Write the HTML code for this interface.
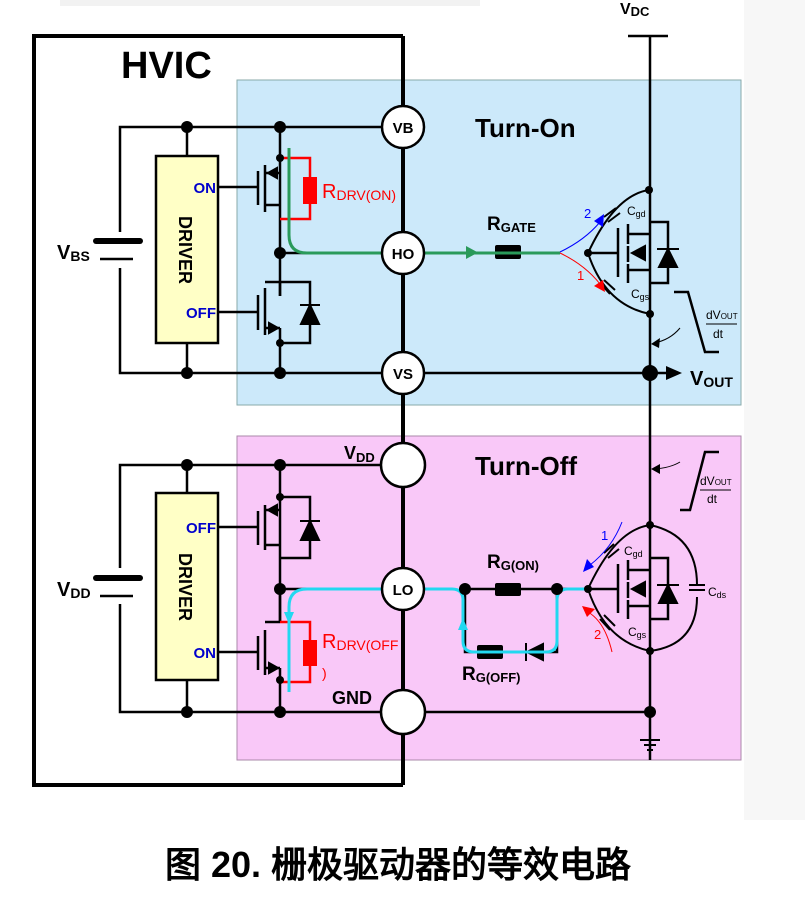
<!DOCTYPE html>
<html><head><meta charset="utf-8"><style>
body{margin:0;background:#fff}
svg{display:block}
text{font-family:"Liberation Sans",Arial,sans-serif}
.b{font-weight:bold}
</style></head><body>
<svg width="805" height="902" viewBox="0 0 805 902" xmlns="http://www.w3.org/2000/svg">
<rect x="0" y="0" width="805" height="902" fill="#fff"/>
<rect x="60" y="0" width="250" height="6" fill="#f2f2f2"/>
<rect x="310" y="0" width="170" height="6" fill="#f2f2f2"/>
<rect x="744" y="0" width="61" height="820" fill="#f7f7f7"/>
<!-- backgrounds -->
<rect x="237" y="80" width="504" height="325" fill="#cce9fa" stroke="#8aa" stroke-width="1"/>
<rect x="237" y="436" width="504" height="324" fill="#f9c8f8" stroke="#a8a" stroke-width="1"/>
<!-- HVIC box -->
<path d="M403,36 H34 V785 H403" fill="none" stroke="#000" stroke-width="4"/>
<line x1="403" y1="36" x2="403" y2="785" stroke="#000" stroke-width="4"/>
<text x="121" y="78" class="b" font-size="38">HVIC</text>

<g stroke="#000" stroke-width="2.5" fill="none">
<path d="M403,127 H120 V232 M120,268 V373 H668"/>
<path d="M187,127 V156 M187,343 V373"/>
<path d="M403,465 H120 V568 M120,604 V712 H650"/>
<path d="M187,465 V493 M187,680 V712"/>
<path d="M218,187 H258 M258,171 V205 M265,165 V212 M265,173 H280 M265,205 H280 M280,127 V296"/>
<path d="M218,312 H258 M258,295 V330 M265,288 V335 M265,282 H310 V343 H280 M265,328 H280 M280,296 V282 M280,328 V373"/>
<path d="M280,253 H403"/>
<path d="M218,527 H258 M258,511 V545 M265,505 V550 M265,510 H280 M265,545 H280 M280,465 V558 H310 V497 H280 M280,545 V622"/>
<path d="M218,652 H258 M258,636 V670 M265,630 V675 M265,622 H280 M265,668 H280 M280,622 V589 M280,668 V712"/>
<path d="M280,589 H403"/>
<path d="M628,36 H668 M650,36 V760"/>
<path d="M640,740 H660 M644,745 H656 M647,750 H653" stroke-width="2"/>
<path d="M588,253 H618 M618,228 V277 M628,224 V244 M628,246 V262 M628,264 V283 M628,234 H650 M628,270 H650 M650,222 H668 V283 H650"/>
<path d="M649,190 Q615,195 588,253 Q605,305 650,314" stroke-width="2"/>
<path d="M465,589 H618 M618,564 V613 M628,560 V580 M628,582 V598 M628,600 V619 M628,570 H650 M628,606 H650 M650,558 H668 V619 H650"/>
<path d="M650,525 Q615,530 588,589 Q605,641 650,651" stroke-width="2"/>
<path d="M650,525 Q697,535 697,585 M697,597 Q697,645 650,651" stroke-width="2"/>
<path d="M465,589 V652 H557 V589"/>
<path d="M674,292 H688 L705,352 H719"/>
<path d="M680,510 H690 L705,452 H719"/>
</g>
<g stroke="#000" stroke-width="2">
<path d="M604,217 L616,208 M608,222 L620,213"/>
<path d="M600,283 L610,294 M604,280 L615,290"/>
<path d="M604,553 L614,544 M608,558 L619,549"/>
<path d="M600,619 L610,630 M604,615 L615,626"/>
<path d="M689,585 H705 M689,590 H705"/>
</g>
<g fill="#000" stroke="#000" stroke-width="2">
<path d="M301,324 L319,324 L310,305z"/><line x1="300" y1="305" x2="320" y2="305"/>
<path d="M301,540 L319,540 L310,521z"/><line x1="300" y1="521" x2="320" y2="521"/>
<path d="M659,267 L677,267 L668,249z"/><line x1="657" y1="249" x2="679" y2="249"/>
<path d="M659,603 L677,603 L668,585z"/><line x1="657" y1="585" x2="679" y2="585"/>
<path d="M543,644 L543,660 L527,652z"/><line x1="526" y1="643" x2="526" y2="661"/>
<path d="M268,173 L277,168 L277,178z"/>
<path d="M278,328 L269,323 L269,333z"/>
<path d="M268,510 L277,505 L277,515z"/>
<path d="M278,668 L269,663 L269,673z"/>
<path d="M632,253 L645,246 L645,260z"/>
<path d="M632,589 L645,582 L645,596z"/>
</g>
<rect x="495" y="245" width="26" height="14" rx="2" fill="#000"/>
<rect x="495" y="583" width="26" height="13" rx="2" fill="#000"/>
<rect x="477" y="645" width="26" height="14" rx="2" fill="#000"/>
<g stroke="#f00" stroke-width="2.5" fill="none">
<path d="M280,158 H310 V219 H280"/>
<path d="M280,622 H310 V682 H280"/>
</g>
<rect x="303" y="177" width="14" height="27" fill="#f00"/>
<rect x="303" y="640" width="14" height="26" fill="#f00"/>
<path d="M289,148 V235 Q289,253 307,253 H560" fill="none" stroke="#2a9a5a" stroke-width="3"/>
<path d="M466,246 L478,252.5 L466,259z" fill="#2a9a5a"/>
<path d="M588,589 H568 Q557,589 557,600 V641 Q557,652 546,652 H474 Q463,652 463,641 V600 Q463,589 452,589 H307 Q289,589 289,607 V692" fill="none" stroke="#22d8f0" stroke-width="3"/>
<path d="M284,612 L289,624 L294,612z" fill="#22d8f0"/>
<path d="M458,630 L463,618 L468,630z" fill="#22d8f0"/>
<path d="M560,252 Q585,240 600,222" fill="none" stroke="#00f" stroke-width="1"/>
<path d="M604,214 L603,227 L594,221z" fill="#00f"/>
<path d="M560,253 Q585,265 600,284" fill="none" stroke="#f00" stroke-width="1"/>
<path d="M605,292 L594,286 L603,280z" fill="#f00"/>
<path d="M622,522 Q612,548 590,565" fill="none" stroke="#00f" stroke-width="1"/>
<path d="M583,572 L587,559 L594,567z" fill="#00f"/>
<path d="M612,652 Q605,622 588,612" fill="none" stroke="#f00" stroke-width="1"/>
<path d="M582,606 L595,609 L587,617z" fill="#f00"/>
<path d="M680,328 Q670,340 654,343" fill="none" stroke="#000" stroke-width="1"/>
<path d="M651,344 L660,338 L659,348z" fill="#000"/>
<path d="M680,462 Q670,468 654,469" fill="none" stroke="#000" stroke-width="1"/>
<path d="M651,469 L660,464 L660,474z" fill="#000"/>
<path d="M682,373 L666,366 L666,380z" fill="#000"/>
<rect x="156" y="156" width="62" height="187" fill="#ffffc6" stroke="#000" stroke-width="2.5"/>
<rect x="156" y="493" width="62" height="187" fill="#ffffc6" stroke="#000" stroke-width="2.5"/>
<text transform="translate(179,250) rotate(90)" text-anchor="middle" class="b" font-size="18">DRIVER</text>
<text transform="translate(179,587) rotate(90)" text-anchor="middle" class="b" font-size="18">DRIVER</text>
<g class="b" font-size="15" fill="#0000cc" text-anchor="end">
<text x="216" y="193">ON</text><text x="216" y="318">OFF</text>
<text x="216" y="533">OFF</text><text x="216" y="658">ON</text>
</g>
<g stroke="#000">
<line x1="96" y1="241" x2="140" y2="241" stroke-width="6" stroke-linecap="round"/>
<line x1="100" y1="259" x2="133" y2="259" stroke-width="2.5"/>
<line x1="96" y1="578" x2="140" y2="578" stroke-width="6" stroke-linecap="round"/>
<line x1="100" y1="596" x2="133" y2="596" stroke-width="2.5"/>
</g>
<text x="57" y="259" class="b" font-size="20">V<tspan font-size="14" dy="2">BS</tspan></text>
<text x="57" y="596" class="b" font-size="20">V<tspan font-size="14" dy="2">DD</tspan></text>
<g fill="#000">
<circle cx="187" cy="127" r="6"/><circle cx="280" cy="127" r="6"/>
<circle cx="280" cy="158" r="4"/><circle cx="280" cy="253" r="6"/>
<circle cx="280" cy="343" r="4"/><circle cx="187" cy="373" r="6"/><circle cx="280" cy="373" r="6"/>
<circle cx="650" cy="373" r="8"/>
<circle cx="649" cy="190" r="4"/><circle cx="650" cy="314" r="4"/><circle cx="588" cy="253" r="4"/>
<circle cx="187" cy="465" r="6"/><circle cx="280" cy="465" r="6"/>
<circle cx="280" cy="497" r="4"/><circle cx="280" cy="589" r="6"/><circle cx="280" cy="680" r="4"/>
<circle cx="187" cy="712" r="6"/><circle cx="280" cy="712" r="6"/><circle cx="650" cy="712" r="6"/>
<circle cx="465" cy="589" r="6"/><circle cx="557" cy="589" r="6"/>
<circle cx="650" cy="525" r="4"/><circle cx="650" cy="651" r="4"/><circle cx="588" cy="589" r="4"/>
</g>
<g fill="#fff" stroke="#000" stroke-width="2.5">
<circle cx="403" cy="127" r="21"/><circle cx="403" cy="253" r="21"/><circle cx="403" cy="373" r="21"/>
<circle cx="403" cy="465" r="22"/><circle cx="403" cy="589" r="21"/><circle cx="403" cy="712" r="22"/>
</g>
<g class="b" font-size="15" text-anchor="middle">
<text x="403" y="133">VB</text><text x="403" y="259">HO</text><text x="403" y="379">VS</text><text x="403" y="595">LO</text>
</g>
<text x="344" y="459" class="b" font-size="18">V<tspan font-size="13" dy="3">DD</tspan></text>
<text x="332" y="704" class="b" font-size="18">GND</text>
<text x="475" y="137" class="b" font-size="26">Turn-On</text>
<text x="475" y="475" class="b" font-size="26">Turn-Off</text>
<text x="322" y="198" fill="#f00" font-size="20">R<tspan font-size="14" dy="2">DRV(ON)</tspan></text>
<text x="322" y="648" fill="#f00" font-size="20">R<tspan font-size="14" dy="2">DRV(OFF</tspan></text>
<text x="322" y="678" fill="#f00" font-size="14">)</text>
<text x="487" y="230" class="b" font-size="19">R<tspan font-size="13" dy="2">GATE</tspan></text>
<text x="487" y="568" class="b" font-size="19">R<tspan font-size="13" dy="2">G(ON)</tspan></text>
<text x="462" y="680" class="b" font-size="19">R<tspan font-size="13" dy="2">G(OFF)</tspan></text>
<text x="620" y="14" class="b" font-size="16">V<tspan font-size="13" dy="2">DC</tspan></text>
<text x="690" y="385" class="b" font-size="20">V<tspan font-size="14" dy="2">OUT</tspan></text>
<g font-size="12">
<text x="627" y="215">C<tspan font-size="9" dy="2">gd</tspan></text>
<text x="631" y="298">C<tspan font-size="9" dy="2">gs</tspan></text>
<text x="624" y="555">C<tspan font-size="9" dy="2">gd</tspan></text>
<text x="628" y="636">C<tspan font-size="9" dy="2">gs</tspan></text>
<text x="708" y="596">C<tspan font-size="9" dy="2">ds</tspan></text>
<text x="706" y="319">dV<tspan font-size="8">OUT</tspan></text>
<text x="713" y="338">dt</text>
<text x="700" y="485">dV<tspan font-size="8">OUT</tspan></text>
<text x="707" y="503">dt</text>
</g>
<line x1="706" y1="324" x2="737" y2="324" stroke="#000"/>
<line x1="700" y1="490" x2="731" y2="490" stroke="#000"/>
<text x="584" y="218" fill="#00f" font-size="13">2</text>
<text x="577" y="280" fill="#f00" font-size="13">1</text>
<text x="601" y="540" fill="#00f" font-size="13">1</text>
<text x="594" y="639" fill="#f00" font-size="13">2</text>
<text x="398" y="877" text-anchor="middle" font-size="36" font-weight="bold" font-family="'Liberation Sans','Noto Sans CJK SC',sans-serif">图 20. 栅极驱动器的等效电路</text>
</svg>
</body></html>
